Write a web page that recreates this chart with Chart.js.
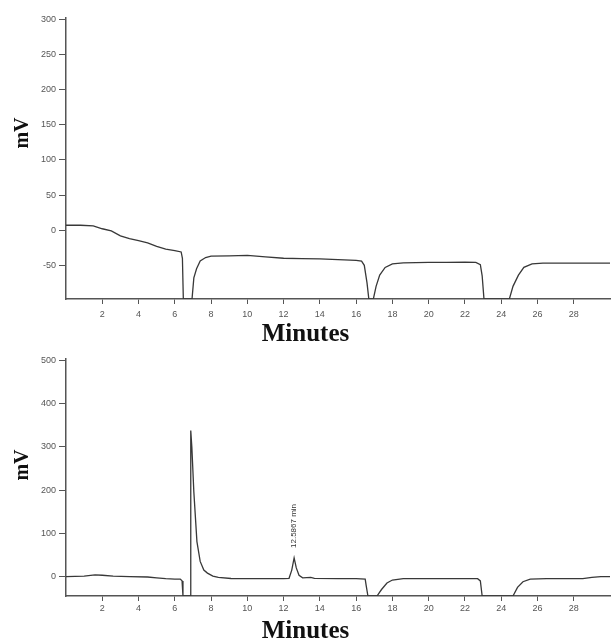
<!DOCTYPE html>
<html>
<head>
<meta charset="utf-8">
<script src="https://cdn.jsdelivr.net/npm/chart.js@4.4.0/dist/chart.umd.min.js"></script>
<style>
  body { margin: 0; background: #fff; width: 611px; height: 643px; overflow: hidden; }
  canvas { display: block; }
</style>
</head>
<body>
<canvas id="topChart" width="611" height="350"></canvas>
<canvas id="bottomChart" width="611" height="293"></canvas>
<script>
// Top chromatogram (minutes, mV)
const topTime = [0, 0.8, 1.5, 2.0, 2.5, 3.0, 3.5, 4.0, 4.5, 5.0, 5.5, 6.0, 6.35, 6.42, 6.47,
  6.95, 7.05, 7.2, 7.4, 7.7, 8.0, 9.0, 10.0, 11.0, 12.0, 13.0, 14.0, 15.0, 16.0, 16.3, 16.45, 16.6, 16.7,
  16.95, 17.1, 17.3, 17.6, 18.0, 18.6, 20.0, 21.0, 22.0, 22.6, 22.85, 22.95, 23.05,
  24.45, 24.65, 24.95, 25.25, 25.7, 26.3, 28.0, 30.0];
const topSignal = [7, 7, 6, 2, -1, -8, -12, -15, -18, -23, -27, -29, -31, -40, -98,
  -98, -68, -55, -44, -39, -37, -36.5, -36, -38, -40, -40.5, -41, -42, -43, -44, -50, -75, -98,
  -98, -80, -64, -53, -48, -46.5, -46, -46, -45.5, -46, -49, -65, -98,
  -98, -80, -64, -53, -48, -47, -47, -47];

// Bottom chromatogram (minutes, mV)
const bottomTime = [0, 1.0, 1.6, 2.0, 2.6, 3.5, 4.5, 5.0, 5.5, 6.0, 6.3, 6.4, 6.45,
  6.85, 6.88, 6.94, 7.05, 7.22, 7.4, 7.6, 7.8, 8.1, 8.4, 9.1, 10.0, 11.0, 12.0,
  12.3, 12.45, 12.58, 12.7, 12.85, 13.05, 13.5, 13.7, 15.0, 16.0, 16.5, 16.55, 16.65,
  17.15, 17.4, 17.7, 18.0, 18.6, 20.0, 22.0, 22.7, 22.85, 22.95,
  24.65, 24.9, 25.2, 25.6, 26.5, 28.5, 29.0, 29.5, 30.0];
const bottomSignal = [0, 1, 4, 3, 1, 0, -1, -3, -5, -6, -6, -10, -45,
  -45, 338, 300, 196, 81, 35, 15, 8, 1, -2, -4.5, -5, -5, -5,
  -4, 15, 43, 20, 3, -3, -2, -4, -5, -5, -6, -20, -45,
  -45, -30, -15, -8, -5, -5, -5, -5, -10, -45,
  -45, -25, -12, -6, -5, -5, -2, 0, 0];

// Axis ticks
const xTicks = [2, 4, 6, 8, 10, 12, 14, 16, 18, 20, 22, 24, 26, 28];
const topYTicks = [-50, 0, 50, 100, 150, 200, 250, 300];
const bottomYTicks = [0, 100, 200, 300, 400, 500];

// Peak annotation in the bottom run
const peakTime = 12.58;
const peakValue = 43;
const peakText = '12.5867 min';

const lineColor = '#383838';
const axisColor = '#555';

// Bold serif axis titles drawn outside the plot area
const axisTitles = {
  id: 'axisTitles',
  afterDraw(chart, args, opts) {
    const ctx = chart.ctx;
    ctx.save();
    ctx.fillStyle = '#111';
    ctx.textAlign = 'center';
    ctx.textBaseline = 'middle';
    ctx.font = 'bold 25px "Liberation Serif", "Times New Roman", serif';
    ctx.fillText('Minutes', chart.width / 2, opts.xTitleY);
    ctx.translate(opts.yTitleX, opts.yTitleY);
    ctx.rotate(-Math.PI / 2);
    ctx.font = 'bold 20px "Liberation Serif", "Times New Roman", serif';
    ctx.fillText('mV', 0, 0);
    ctx.restore();
  }
};

// Rotated retention-time label above the small peak
const peakLabel = {
  id: 'peakLabel',
  afterDatasetsDraw(chart, args, opts) {
    if (!opts.text) return;
    const ctx = chart.ctx;
    const x = chart.scales.x.getPixelForValue(opts.time);
    const y = chart.scales.y.getPixelForValue(opts.value);
    ctx.save();
    ctx.translate(x, y - 10);
    ctx.rotate(-Math.PI / 2);
    ctx.fillStyle = '#333';
    ctx.font = '8px "Liberation Sans", Arial, sans-serif';
    ctx.textAlign = 'left';
    ctx.textBaseline = 'middle';
    ctx.fillText(opts.text, 0, 0);
    ctx.restore();
  }
};

function toPoints(xs, ys) {
  return xs.map((x, i) => ({ x: x, y: ys[i] }));
}

function makeChart(id, cfg) {
  const ctx = document.getElementById(id).getContext('2d');
  return new Chart(ctx, {
    type: 'line',
    data: {
      datasets: [{
        data: toPoints(cfg.time, cfg.signal),
        borderColor: lineColor,
        borderWidth: 1.3,
        pointRadius: 0,
        tension: 0,
        fill: false
      }]
    },
    options: {
      responsive: false,
      animation: false,
      layout: { padding: { top: cfg.padTop, right: 1, left: 0, bottom: 0 } },
      plugins: {
        legend: { display: false },
        tooltip: { enabled: false },
        axisTitles: { xTitleY: cfg.xTitleY, yTitleX: 23, yTitleY: cfg.yTitleY },
        peakLabel: cfg.peak || {}
      },
      scales: {
        x: {
          type: 'linear',
          min: 0,
          max: 30,
          border: { color: axisColor, width: 1.5 },
          grid: { drawOnChartArea: false, drawTicks: true, tickLength: 5, color: axisColor },
          afterBuildTicks: s => { s.ticks = xTicks.map(v => ({ value: v })); },
          afterFit: s => { s.height = cfg.xHeight; },
          ticks: {
            autoSkip: false,
            maxRotation: 0,
            padding: cfg.xPad,
            color: '#555',
            font: { size: 9, family: '"Liberation Sans", Arial, sans-serif' }
          }
        },
        y: {
          type: 'linear',
          min: cfg.yMin,
          max: cfg.yMax,
          border: { color: axisColor, width: 1.5 },
          grid: { drawOnChartArea: false, drawTicks: true, tickLength: 7, color: axisColor },
          afterBuildTicks: s => { s.ticks = cfg.yTicks.map(v => ({ value: v })); },
          afterFit: s => { s.width = 66; },
          ticks: {
            padding: 3,
            color: '#555',
            font: { size: 9, family: '"Liberation Sans", Arial, sans-serif' }
          }
        }
      }
    },
    plugins: [axisTitles, peakLabel]
  });
}

makeChart('topChart', {
  time: topTime, signal: topSignal, yTicks: topYTicks,
  yMin: -98, yMax: 302, padTop: 18, xHeight: 51, xPad: 5,
  xTitleY: 335, yTitleY: 133
});

makeChart('bottomChart', {
  time: bottomTime, signal: bottomSignal, yTicks: bottomYTicks,
  yMin: -45, yMax: 505, padTop: 5, xHeight: 47, xPad: 2,
  xTitleY: 282, yTitleY: 115,
  peak: { time: peakTime, value: peakValue, text: peakText }
});
</script>
</body>
</html>
